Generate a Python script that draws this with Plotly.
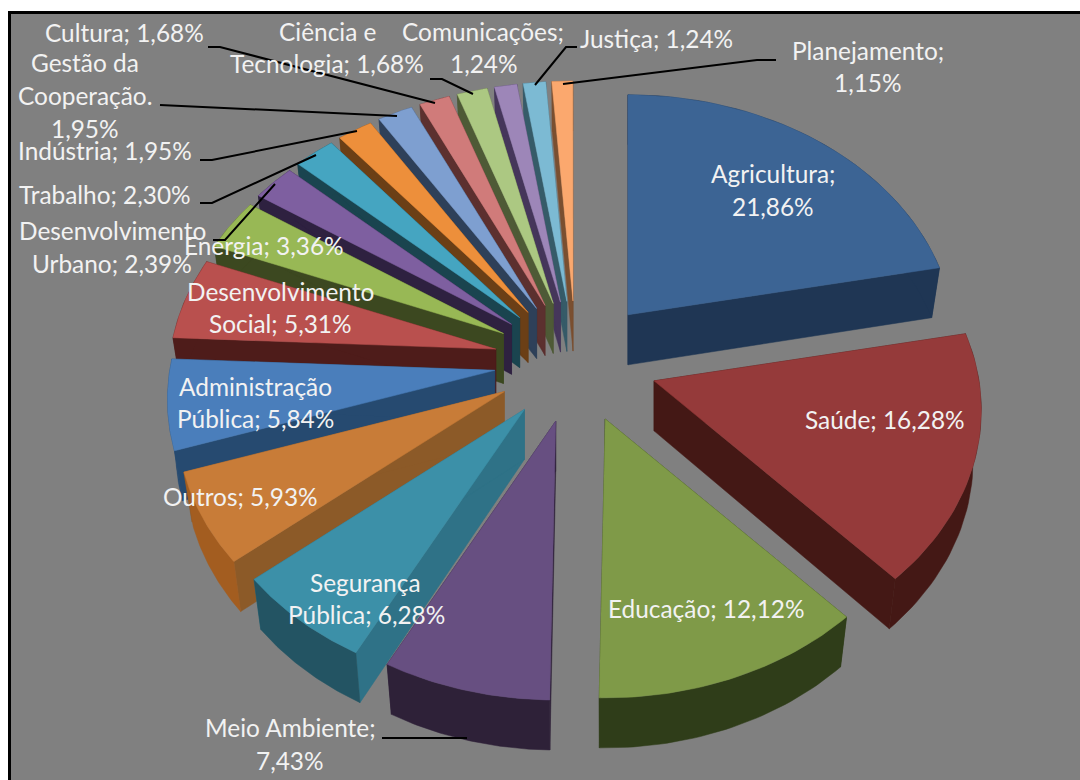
import math
import plotly.graph_objects as go

# Share of each sector, in percent, clockwise from twelve o'clock
sectors = ["Agricultura", "Saúde", "Educação", "Meio Ambiente", "Segurança Pública", "Outros",
           "Administração Pública", "Desenvolvimento Social", "Energia", "Desenvolvimento Urbano",
           "Trabalho", "Indústria", "Gestão da Cooperação", "Cultura", "Ciência e Tecnologia",
           "Comunicações", "Justiça", "Planejamento"]
shares = [21.86, 16.28, 12.12, 7.43, 6.28, 5.93, 5.84, 5.31, 3.36, 2.39,
          2.30, 1.95, 1.95, 1.68, 1.68, 1.24, 1.24, 1.15]

top_colors = ["#3C6494", "#953A3A", "#7F9A48", "#674F81", "#3C90A8", "#C87C38",
              "#4A7EBB", "#B9504E", "#98B855", "#7E5FA0", "#45A5C1", "#ED8F3B",
              "#7E9FD0", "#D07B7A", "#ACC882", "#9D86B8", "#7CBAD3", "#FBA86E"]
radial_colors = ["#1F3654", "#441815", "#2F3D19", "#2E2138", "#2F7287", "#8C5A28",
                 "#264A70", "#4E1C1A", "#3C4820", "#2E2140", "#1A444F", "#6B3F16",
                 "#2E4059", "#5C302F", "#4E5A36", "#45365A", "#365B68", "#7A4F30"]
rim_colors = ["#1F3654", "#441815", "#2F3D19", "#2E2138", "#235463", "#A35D20",
              "#264A70", "#4E1C1A", "#3C4820", "#2E2140", "#1A444F", "#6B3F16",
              "#2E4059", "#5C302F", "#4E5A36", "#45365A", "#365B68", "#7A4F30"]

# Text lines per label: (text, centre x, centre y)
label_lines = [
    ("Agricultura;", 773, 173), ("21,86%", 773, 206),
    ("Saúde; 16,28%", 885, 419),
    ("Educação; 12,12%", 706, 608),
    ("Meio Ambiente;", 290, 727), ("7,43%", 290, 760),
    ("Segurança", 365, 582), ("Pública; 6,28%", 366, 614),
    ("Outros; 5,93%", 240, 496),
    ("Administração", 255, 386), ("Pública; 5,84%", 255, 418),
    ("Desenvolvimento", 112, 230), ("Urbano; 2,39%", 112, 263),
    ("Desenvolvimento", 280, 291), ("Social; 5,31%", 280, 323),
    ("Energia; 3,36%", 264, 245),
    ("Trabalho; 2,30%", 105, 194),
    ("Indústria; 1,95%", 105, 150),
    ("Gestão da", 85, 62), ("Cooperação.", 85, 95), ("1,95%", 85, 128),
    ("Cultura; 1,68%", 124, 32),
    ("Ciência e", 327, 31), ("Tecnologia; 1,68%", 327, 63),
    ("Comunicações;", 483, 31), ("1,24%", 484, 63),
    ("Justiça; 1,24%", 656, 38),
    ("Planejamento;", 868, 50), ("1,15%", 868, 82),
]

# Leader lines from outside labels to their slices
leaders = [
    [(208, 47), (220, 47), (435, 103)],
    [(160, 105), (397, 116)],
    [(200, 160), (212, 160), (357, 131)],
    [(200, 203), (212, 203), (316, 155)],
    [(213, 240), (225, 240), (275, 184)],
    [(430, 79), (442, 79), (473, 94)],
    [(577, 47), (566, 47), (535, 85)],
    [(563, 84), (757, 60), (776, 60)],
    [(382, 738), (467, 738)],
]

# Projection of the tilted pie
CX, CY = 576, 362          # pie centre
EXPLODE_X, EXPLODE_Y = 82, 61
RADIUS_X, RADIUS_Y = 325, 246
PERSPECTIVE = 0.118
DEPTH = 50
BOTTOM_SHRINK = 0.975
ARC_STEPS = 40


def rim_point(apex, angle, shrink=1.0, drop=0):
    sx, cy = math.sin(angle), math.cos(angle)
    w = 1 + PERSPECTIVE * cy
    return (apex[0] + shrink * RADIUS_X * sx / w,
            apex[1] - RADIUS_Y * cy / w + drop)


def polygon(fig, pts, color):
    fig.add_trace(go.Scatter(
        x=[p[0] for p in pts] + [pts[0][0]], y=[p[1] for p in pts] + [pts[0][1]],
        mode="lines", fill="toself", fillcolor=color,
        line=dict(width=0.5, color=color), hoverinfo="skip", showlegend=False))


total = 100.0
slices = []
running = 0.0
for i, share in enumerate(shares):
    a0 = running / total * 2 * math.pi
    running += share
    a1 = running / total * 2 * math.pi
    slices.append((i, a0, a1))

fig = go.Figure()

# Back slices first so nearer ones paint over them
for i, a0, a1 in sorted(slices, key=lambda s: -math.cos((s[1] + s[2]) / 2)):
    mid = (a0 + a1) / 2
    apex = (CX + EXPLODE_X * math.sin(mid), CY - EXPLODE_Y * math.cos(mid))
    apex_low = (apex[0], apex[1] + DEPTH)
    steps = [a0 + (a1 - a0) * k / ARC_STEPS for k in range(ARC_STEPS + 1)]
    top_arc = [rim_point(apex, t) for t in steps]
    low_arc = [rim_point(apex, t, BOTTOM_SHRINK, DEPTH) for t in steps]

    polygon(fig, [apex, top_arc[0], low_arc[0], apex_low], radial_colors[i])
    polygon(fig, [apex, top_arc[-1], low_arc[-1], apex_low], radial_colors[i])
    polygon(fig, top_arc + low_arc[::-1], rim_colors[i])
    polygon(fig, [apex] + top_arc, top_colors[i])

for pts in leaders:
    fig.add_trace(go.Scatter(x=[p[0] for p in pts], y=[p[1] for p in pts], mode="lines",
                             line=dict(color="black", width=2), hoverinfo="skip", showlegend=False))

fig.update_layout(
    width=1080, height=780, margin=dict(l=0, r=0, t=0, b=0),
    paper_bgcolor="white", plot_bgcolor="white", showlegend=False,
    xaxis=dict(range=[0, 1080], visible=False, fixedrange=True),
    yaxis=dict(range=[780, 0], visible=False, fixedrange=True),
    shapes=[dict(type="rect", xref="x", yref="y", x0=9.5, y0=12.5, x1=1100, y1=800,
                 fillcolor="#808080", line=dict(color="black", width=3), layer="below")],
    annotations=[dict(x=x, y=y, xref="x", yref="y", text=t, showarrow=False,
                      xanchor="center", yanchor="middle",
                      font=dict(family="Lato", size=24.4, color="#F2F2F2"))
                 for t, x, y in label_lines],
)

fig.write_html("out.html", config=dict(displayModeBar=False))
